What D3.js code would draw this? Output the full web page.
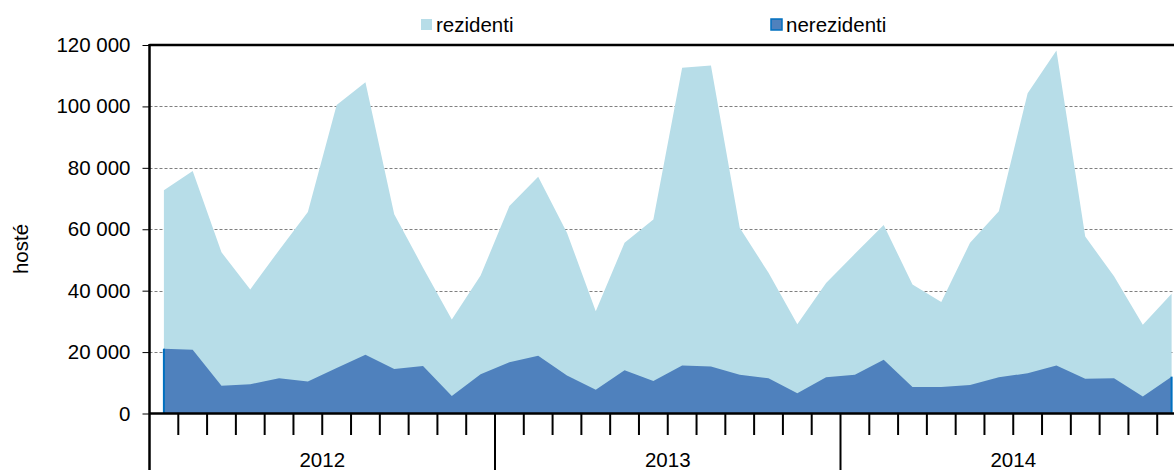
<!DOCTYPE html>
<html>
<head>
<meta charset="utf-8">
<script src="https://cdn.jsdelivr.net/npm/d3@7"></script>
<style>
  body { margin: 0; background: #fff; }
  svg { display: block; font-family: "Liberation Sans", Arial, sans-serif; }
</style>
</head>
<body>
<svg width="1174" height="470"></svg>
<script>
// years and months shown on the x axis
const years = ["2012", "2013", "2014"];
const months = ["01", "02", "03", "04", "05", "06", "07", "08", "09", "10", "11", "12"];

// guests per month
const rezidenti = [
  72700, 79000, 52500, 40400, 53200, 65600, 100500, 107900, 64900, 47500, 30600, 44900,
  67600, 77100, 58900, 33300, 55600, 63200, 112600, 113300, 60500, 45800, 29100, 42500,
  52000, 61400, 42000, 36300, 55600, 65900, 104300, 118200, 57600, 44700, 28900, 39000
];
const nerezidenti = [
  21100, 20800, 9000, 9500, 11500, 10400, 14800, 19100, 14500, 15500, 5700, 12800,
  16700, 18800, 12400, 7700, 14100, 10600, 15600, 15300, 12600, 11500, 6600, 11800,
  12600, 17500, 8600, 8600, 9300, 11800, 13100, 15600, 11300, 11500, 5500, 12000
];
const yTicks = [0, 20000, 40000, 60000, 80000, 100000, 120000];

const categories = d3.cross(years, months).map(d => d[0] + "-" + d[1]);
const data = categories.map((c, i) => ({ key: c, rez: rezidenti[i], nerez: nerezidenti[i] }));

const svg = d3.select("svg");
const plotL = 149.5, plotR = 1186, plotT = 45, plotB = 413.5;

const x = d3.scaleBand().domain(categories).range([plotL, plotR]).padding(0);
const xc = d => x(d.key) + x.bandwidth() / 2;
const y = d3.scaleLinear().domain([0, 120000]).range([plotB, plotT]);

const fmt = d3.formatLocale({ decimal: ",", thousands: " ", grouping: [3], currency: ["", ""] }).format(",d");

// dashed grid
svg.append("g")
  .selectAll("line")
  .data(yTicks.filter(t => t > 0 && t < 120000))
  .join("line")
  .attr("x1", plotL).attr("x2", 1174)
  .attr("y1", d => Math.round(y(d)) + 0.5).attr("y2", d => Math.round(y(d)) + 0.5)
  .attr("stroke", "#7f7f7f")
  .attr("stroke-dasharray", "3,2")
  .attr("stroke-width", 1);

// areas
const areaRez = d3.area().x(xc).y0(y(0)).y1(d => y(d.rez));
const areaNerez = d3.area().x(xc).y0(y(0)).y1(d => y(d.nerez));

svg.append("path").datum(data).attr("d", areaRez).attr("fill", "#b7dde8");
svg.append("path").datum(data).attr("d", areaNerez).attr("fill", "#4f81bd");

// dark edge at both ends of the nerezidenti area
const ends = [data[0], data[data.length - 1]];
svg.append("g")
  .selectAll("line")
  .data(ends)
  .join("line")
  .attr("x1", d => xc(d)).attr("x2", d => xc(d))
  .attr("y1", y(0)).attr("y2", d => y(d.nerez))
  .attr("stroke", "#0070c0")
  .attr("stroke-width", 2);

// y axis
const yAxis = svg.append("g")
  .attr("transform", `translate(${plotL},0)`)
  .call(d3.axisLeft(y).tickValues(yTicks).tickFormat(fmt).tickSize(7).tickPadding(12));
yAxis.select(".domain").remove();
yAxis.selectAll(".tick line").attr("stroke", "#000").attr("stroke-width", 1);
yAxis.selectAll(".tick text").attr("font-size", "20.5px").attr("fill", "#000").attr("font-family", "Liberation Sans, Arial, sans-serif");

// frame lines
svg.append("line").attr("x1", plotL).attr("x2", plotL).attr("y1", plotT - 1).attr("y2", 470)
  .attr("stroke", "#000").attr("stroke-width", 2.5);
svg.append("line").attr("x1", plotL).attr("x2", 1174).attr("y1", plotT).attr("y2", plotT)
  .attr("stroke", "#000").attr("stroke-width", 2.5);
svg.append("line").attr("x1", plotL).attr("x2", 1174).attr("y1", plotB).attr("y2", plotB)
  .attr("stroke", "#000").attr("stroke-width", 2.5);

// month ticks and year ticks
svg.append("g")
  .selectAll("line")
  .data(categories.slice(1))
  .join("line")
  .attr("x1", d => x(d)).attr("x2", d => x(d))
  .attr("y1", plotB)
  .attr("y2", d => d.endsWith("-01") ? 470 : 435)
  .attr("stroke", "#000")
  .attr("stroke-width", 2);

// year labels
svg.append("g")
  .selectAll("text")
  .data(years)
  .join("text")
  .attr("x", yr => {
    const a = x(yr + "-01"), b = x(yr + "-12") + x.bandwidth();
    return (a + b) / 2;
  })
  .attr("y", 467)
  .attr("text-anchor", "middle")
  .attr("font-size", "20.5px")
  .text(d => d);

// axis title
svg.append("text")
  .attr("transform", "translate(28,249) rotate(-90)")
  .attr("text-anchor", "middle")
  .attr("font-size", "20.5px")
  .text("hosté");

// legend
const legend = [
  { name: "rezidenti", fill: "#b7dde8", stroke: "none", x: 421 },
  { name: "nerezidenti", fill: "#4f81bd", stroke: "#0070c0", x: 771 }
];
const lg = svg.append("g").selectAll("g").data(legend).join("g")
  .attr("transform", d => `translate(${d.x},19)`);
lg.append("rect")
  .attr("width", 11).attr("height", 11)
  .attr("fill", d => d.fill)
  .attr("stroke", d => d.stroke)
  .attr("stroke-width", 1.5);
lg.append("text")
  .attr("x", 15).attr("y", 12.5)
  .attr("font-size", "20.5px")
  .text(d => d.name);
</script>
</body>
</html>
